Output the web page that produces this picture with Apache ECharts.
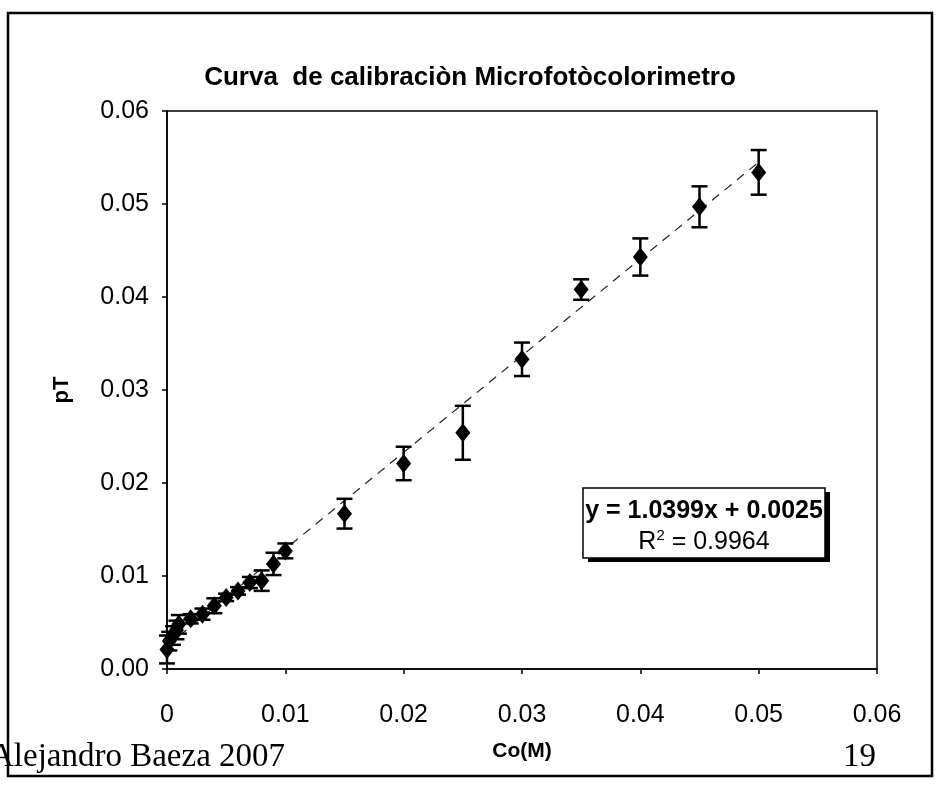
<!DOCTYPE html>
<html>
<head>
<meta charset="utf-8">
<script src="https://cdn.jsdelivr.net/npm/echarts@6/dist/echarts.min.js"></script>
<style>
  html, body { margin: 0; padding: 0; background: #fff; }
  #chart { width: 940px; height: 785px; }
</style>
</head>
<body>
<div id="chart"></div>
<script>
// Concentration (M) of each standard
var concentration = [0, 0.0002, 0.0005, 0.0008, 0.001, 0.002, 0.003, 0.004, 0.005, 0.006, 0.007, 0.008, 0.009, 0.010,
                     0.015, 0.020, 0.025, 0.030, 0.035, 0.040, 0.045, 0.050];
// Mean pT reading for each standard
var pT = [0.0021, 0.0030, 0.0036, 0.0042, 0.0048, 0.0054, 0.0059, 0.0068, 0.0077, 0.0084, 0.0093, 0.0095, 0.0113, 0.0127,
          0.0167, 0.0221, 0.0254, 0.0333, 0.0408, 0.0443, 0.0497, 0.0534];
// Half-width of each error bar
var pTError = [0.0015, 0.0010, 0.0010, 0.0010, 0.0010, 0.0005, 0.0006, 0.0008, 0.0004, 0.0004, 0.0006, 0.0011, 0.0012, 0.0008,
               0.0016, 0.0018, 0.0029, 0.0018, 0.0011, 0.0020, 0.0022, 0.0024];
// Linear fit y = slope * x + intercept
var slope = 1.0399;
var intercept = 0.0025;
var rSquared = '0.9964';
var fitRange = [0, 0.05];
var xTicks = ['0', '0.01', '0.02', '0.03', '0.04', '0.05', '0.06'];
var yTicks = ['0.00', '0.01', '0.02', '0.03', '0.04', '0.05', '0.06'];

var points = concentration.map(function (c, i) { return [c, pT[i]]; });
var bars = concentration.map(function (c, i) { return [c, pT[i] - pTError[i], pT[i] + pTError[i]]; });
var fitLine = fitRange.map(function (x) { return [x, slope * x + intercept]; });

var font = '"Liberation Sans", Arial, sans-serif';
var serif = '"Liberation Serif", "Times New Roman", serif';
var chart = echarts.init(document.getElementById('chart'));

chart.setOption({
  animation: false,
  backgroundColor: '#fff',
  title: {
    text: 'Curva  de calibraciòn Microfotòcolorimetro',
    left: 'center',
    top: 60,
    textStyle: { fontFamily: font, fontSize: 26, fontWeight: 'bold', color: '#000' }
  },
  grid: {
    left: 167, right: 63, top: 111, bottom: 116,
    show: true, borderColor: '#000', borderWidth: 1.5, backgroundColor: '#fff'
  },
  xAxis: {
    type: 'value', min: 0, max: 0.06, interval: 0.01,
    name: 'Co(M)', nameLocation: 'middle', nameGap: 72,
    nameTextStyle: { fontFamily: font, fontSize: 21, fontWeight: 'bold', color: '#000' },
    axisLine: { lineStyle: { color: '#000', width: 1.5 } },
    axisTick: { length: 5, lineStyle: { color: '#000', width: 1.5 } },
    axisLabel: {
      margin: 34, fontFamily: font, fontSize: 25, color: '#000',
      formatter: function (v) { return xTicks[Math.round(v / 0.01)]; }
    },
    splitLine: { show: false }
  },
  yAxis: {
    type: 'value', min: 0, max: 0.06, interval: 0.01,
    name: 'pT', nameLocation: 'middle', nameGap: 94, nameRotate: 90,
    nameTextStyle: { fontFamily: font, fontSize: 22, fontWeight: 'bold', color: '#000' },
    axisLine: { lineStyle: { color: '#000', width: 1.5 } },
    axisTick: { length: 5, lineStyle: { color: '#000', width: 1.5 } },
    axisLabel: {
      margin: 18, fontFamily: font, fontSize: 25, color: '#000',
      formatter: function (v) { return yTicks[Math.round(v / 0.01)]; }
    },
    splitLine: { show: false }
  },
  series: [
    {
      type: 'line',
      data: fitLine,
      symbol: 'none',
      lineStyle: { color: '#222', width: 1.2, type: [9, 7] },
      z: 1
    },
    {
      type: 'custom',
      data: bars,
      z: 2,
      renderItem: function (params, api) {
        var x = api.value(0);
        var lo = api.coord([x, api.value(1)]);
        var hi = api.coord([x, api.value(2)]);
        var cap = 8;
        var style = { stroke: '#000', lineWidth: 2.5 };
        return {
          type: 'group',
          children: [
            { type: 'line', shape: { x1: lo[0], y1: lo[1], x2: hi[0], y2: hi[1] }, style: style },
            { type: 'line', shape: { x1: lo[0] - cap, y1: lo[1], x2: lo[0] + cap, y2: lo[1] }, style: style },
            { type: 'line', shape: { x1: hi[0] - cap, y1: hi[1], x2: hi[0] + cap, y2: hi[1] }, style: style }
          ]
        };
      }
    },
    {
      type: 'scatter',
      data: points,
      symbol: 'diamond',
      symbolSize: [15, 19],
      itemStyle: { color: '#000', opacity: 1 },
      z: 3
    }
  ],
  graphic: [
    // outer frame of the chart area
    {
      type: 'rect', silent: true, z: -1,
      shape: { x: 8, y: 13, width: 924, height: 763 },
      style: { fill: 'none', stroke: '#000', lineWidth: 2.5 }
    },
    // equation box: shadow then the box itself
    {
      type: 'rect', z: 10,
      shape: { x: 588, y: 492, width: 242, height: 70 },
      style: { fill: '#000' }
    },
    {
      type: 'rect', z: 10,
      shape: { x: 583, y: 488, width: 242, height: 70 },
      style: { fill: '#fff', stroke: '#000', lineWidth: 1.5 }
    },
    {
      type: 'text', z: 11,
      x: 704, y: 511,
      style: {
        text: 'y = ' + slope.toFixed(4) + 'x + ' + intercept.toFixed(4),
        font: 'bold 25px ' + font, fill: '#000', textAlign: 'center', textVerticalAlign: 'middle'
      }
    },
    {
      type: 'text', z: 11,
      x: 704, y: 542,
      style: {
        rich: {
          b: { fontSize: 25, fontFamily: font },
          s: { fontSize: 15, fontFamily: font, verticalAlign: 'top', padding: [0, 0, 12, 0] }
        },
        text: '{b|R}{s|2}{b| = ' + rSquared + '}',
        fill: '#000', textAlign: 'center', textVerticalAlign: 'middle'
      }
    },
    // footer
    {
      type: 'text', z: 12,
      x: -10, y: 741,
      style: { text: 'Alejandro Baeza 2007', font: '33px ' + serif, fill: '#000' }
    },
    {
      type: 'text', z: 12,
      x: 843, y: 741,
      style: { text: '19', font: '33px ' + serif, fill: '#000' }
    }
  ]
});
</script>
</body>
</html>
